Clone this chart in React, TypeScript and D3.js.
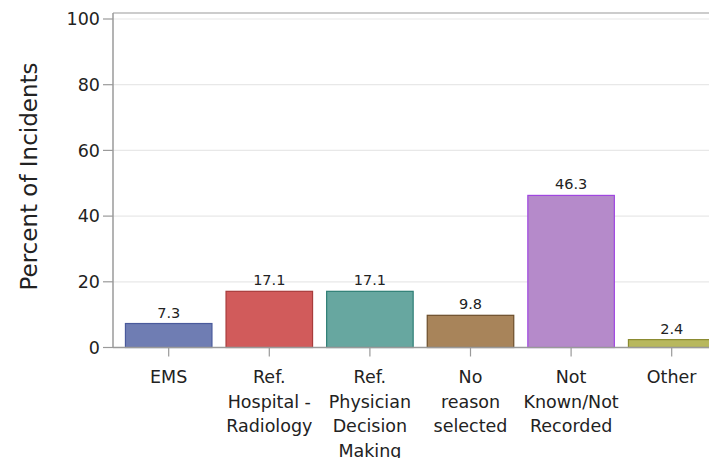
import React from "react";
import * as d3 from "d3";

const categories: string[][] = [
  ["EMS"],
  ["Ref.", "Hospital -", "Radiology"],
  ["Ref.", "Physician", "Decision", "Making"],
  ["No", "reason", "selected"],
  ["Not", "Known/Not", "Recorded"],
  ["Other"],
];
const values: number[] = [7.3, 17.1, 17.1, 9.8, 46.3, 2.4];
const valueLabels: string[] = ["7.3", "17.1", "17.1", "9.8", "46.3", "2.4"];
const fills: string[] = ["#6f7db3", "#d15b5b", "#67a7a0", "#a8845a", "#b58aca", "#b8b85d"];
const strokes: string[] = ["#4a5a9c", "#a83c3c", "#2e7e75", "#6b4e2a", "#a046e0", "#8a8a30"];
const yTicks: number[] = [0, 20, 40, 60, 80, 100];

const W = 709;
const H = 458;
const FONT = "'DejaVu Sans', sans-serif";

export default function App() {
  const keys = categories.map((_, i) => String(i));
  const x = d3.scaleBand<string>().domain(keys).range([118.4, 722]).paddingInner(0.14).paddingOuter(0.07);
  const y = d3.scaleLinear().domain([0, 100]).range([347.5, 19]);
  const axisX = 113;
  const frameTop = 13;
  const axisColor = "#9a9a9a";

  return (
    <svg width={W} height={H} style={{ position: "absolute", left: 0, top: 0, background: "#fff" }} fontFamily={FONT}>
      {yTicks.filter((t) => t > 0).map((t) => (
        <line key={"g" + t} x1={axisX} x2={W} y1={y(t)} y2={y(t)} stroke="#e8e8e8" strokeWidth={1.2} />
      ))}
      {values.map((v, i) => (
        <rect
          key={"b" + i}
          x={x(String(i))!}
          y={y(v)}
          width={x.bandwidth()}
          height={y(0) - y(v)}
          fill={fills[i]}
          stroke={strokes[i]}
          strokeWidth={1.2}
        />
      ))}
      {values.map((v, i) => (
        <text
          key={"v" + i}
          x={x(String(i))! + x.bandwidth() / 2}
          y={y(v) - 6}
          textAnchor="middle"
          fontSize={14.5}
          fill="#222"
        >
          {valueLabels[i]}
        </text>
      ))}
      <line x1={axisX} x2={axisX} y1={frameTop} y2={y(0)} stroke={axisColor} strokeWidth={1.5} />
      <line x1={axisX} x2={W} y1={frameTop} y2={frameTop} stroke={axisColor} strokeWidth={1.2} />
      <line x1={axisX} x2={W} y1={y(0)} y2={y(0)} stroke={axisColor} strokeWidth={1.5} />
      {yTicks.map((t) => (
        <g key={"yt" + t}>
          <line x1={axisX - 10} x2={axisX} y1={y(t)} y2={y(t)} stroke={axisColor} strokeWidth={1.2} />
          <text x={axisX - 13} y={y(t)} dy="0.36em" textAnchor="end" fontSize={17.5} fill="#222">
            {t}
          </text>
        </g>
      ))}
      {categories.map((lines, i) => {
        const cx = x(String(i))! + x.bandwidth() / 2;
        return (
          <g key={"xt" + i}>
            <line x1={cx} x2={cx} y1={y(0)} y2={y(0) + 9} stroke={axisColor} strokeWidth={1.2} />
            <text textAnchor="middle" fontSize={17.5} fill="#222">
              {lines.map((l, j) => (
                <tspan key={j} x={cx} y={383 + j * 24.5}>
                  {l}
                </tspan>
              ))}
            </text>
          </g>
        );
      })}
      <text transform={`translate(37, ${(290 + 63) / 2}) rotate(-90)`} textAnchor="middle" fontSize={23} fill="#222">
        Percent of Incidents
      </text>
    </svg>
  );
}
